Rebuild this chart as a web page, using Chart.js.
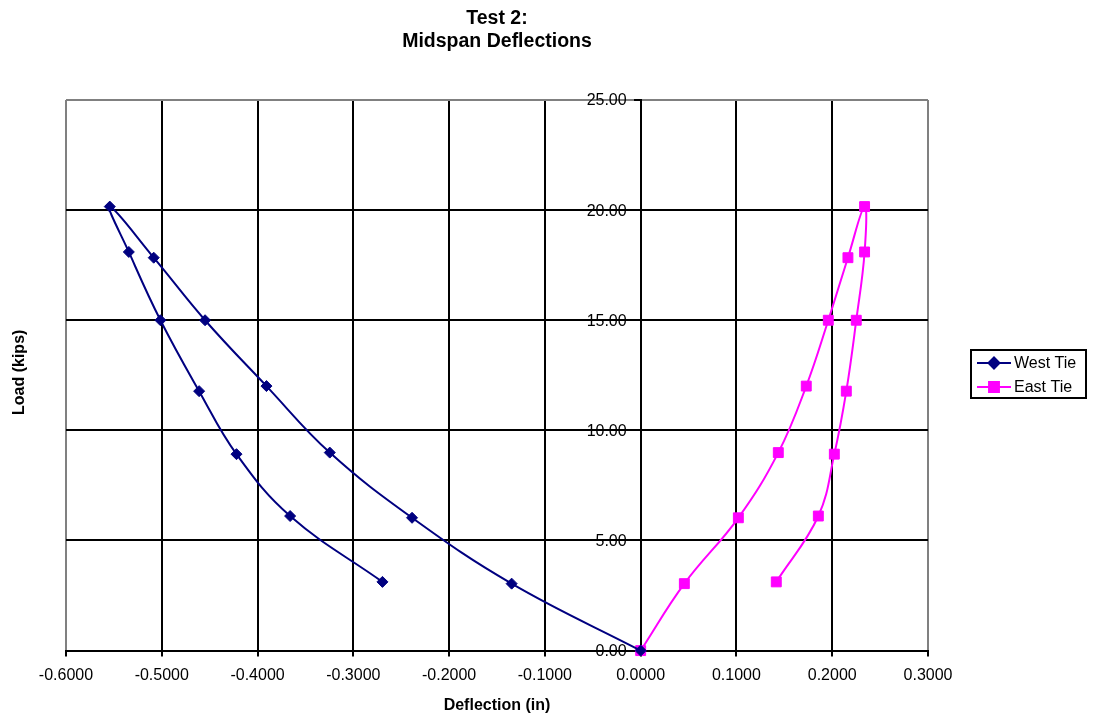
<!DOCTYPE html>
<html>
<head>
<meta charset="utf-8">
<title>Test 2: Midspan Deflections</title>
<script src="https://cdn.jsdelivr.net/npm/chart.js@4/dist/chart.umd.min.js"></script>
<style>
  html, body { margin: 0; padding: 0; background: #fff; }
  #wrap { width: 1094px; height: 719px; position: relative; }
</style>
</head>
<body>
<div id="wrap"><canvas id="deflChart"></canvas></div>
<script>
// Load steps (kips), shared by both ties: loading up to ~20 kips, then unloading
const loads = [0, 3.04, 6.03, 8.99, 12.01, 15.0, 17.84, 20.16, 18.10, 15.0, 11.78, 8.92, 6.11, 3.12];
// Midspan deflections (in)
const westTie = [0, -0.1347, -0.2387, -0.3246, -0.3907, -0.4548, -0.5084, -0.5543, -0.5344, -0.5014, -0.4610, -0.4220, -0.3660, -0.2696];
const eastTie = [0, 0.0456, 0.1020, 0.1437, 0.1729, 0.1959, 0.2164, 0.2338, 0.2338, 0.2251, 0.2147, 0.2022, 0.1855, 0.1416];

const seriesNames = ["West Tie", "East Tie"];
const titleLines = ["Test 2:", "Midspan Deflections"];
const xTitle = "Deflection (in)";
const yTitle = "Load (kips)";

const FONT = "'Liberation Sans', Arial, sans-serif";
const NAVY = "#000080";
const MAGENTA = "#FF00FF";
const BORDER_GREY = "#808080";

function toPoints(xs) {
  return xs.map((x, i) => ({ x: x, y: loads[i] }));
}

// y tick labels next to the x=0 axis, y-axis title, and the boxed legend
const extrasPlugin = {
  id: "extras",
  afterDraw(chart) {
    const ctx = chart.ctx;
    const area = chart.chartArea;
    const xs = chart.scales.x;
    const ys = chart.scales.y;

    ctx.save();
    ctx.fillStyle = "#000";
    ctx.font = "16px " + FONT;
    ctx.textAlign = "right";
    ctx.textBaseline = "middle";
    const axisX = xs.getPixelForValue(0);
    ys.ticks.forEach((t) => {
      ctx.fillText(Number(t.value).toFixed(2), axisX - 14, ys.getPixelForValue(t.value) + 1);
    });
    ctx.restore();

    ctx.save();
    ctx.translate(20, (area.top + area.bottom) / 2 - 3);
    ctx.rotate(-Math.PI / 2);
    ctx.font = "bold 16px " + FONT;
    ctx.fillStyle = "#000";
    ctx.textAlign = "center";
    ctx.textBaseline = "middle";
    ctx.fillText(yTitle, 0, 0);
    ctx.restore();

    // legend box
    const bx = area.right + 43;
    const by = 350;
    ctx.save();
    ctx.strokeStyle = "#000";
    ctx.lineWidth = 2;
    ctx.strokeRect(bx, by, 115, 48);
    chart.data.datasets.forEach((ds, i) => {
      const rowY = by + 13 + i * 24;
      ctx.strokeStyle = ds.borderColor;
      ctx.lineWidth = 2;
      ctx.beginPath();
      ctx.moveTo(bx + 6, rowY);
      ctx.lineTo(bx + 40, rowY);
      ctx.stroke();
      ctx.fillStyle = ds.borderColor;
      Chart.helpers.drawPoint(ctx, {
        pointStyle: ds.pointStyle,
        radius: ds.pointRadius,
        borderWidth: 1
      }, bx + 23, rowY);
      ctx.fillStyle = "#000";
      ctx.font = "16px " + FONT;
      ctx.textAlign = "left";
      ctx.textBaseline = "middle";
      ctx.fillText(ds.label, bx + 43, rowY + 1);
    });
    ctx.restore();
  }
};

function isEdge(v, a, b) {
  return Math.abs(v - a) < 1e-6 || Math.abs(v - b) < 1e-6;
}

new Chart(document.getElementById("deflChart"), {
  type: "scatter",
  data: {
    datasets: [
      {
        label: seriesNames[0],
        data: toPoints(westTie),
        showLine: true,
        borderColor: NAVY,
        backgroundColor: NAVY,
        borderWidth: 2,
        tension: 0.4,
        pointStyle: "rectRot",
        pointRadius: 5.5,
        pointBorderWidth: 1,
        clip: false
      },
      {
        label: seriesNames[1],
        data: toPoints(eastTie),
        showLine: true,
        borderColor: MAGENTA,
        backgroundColor: MAGENTA,
        borderWidth: 2,
        tension: 0.4,
        pointStyle: "rect",
        pointRadius: 7,
        pointBorderWidth: 1,
        clip: false
      }
    ]
  },
  options: {
    responsive: true,
    maintainAspectRatio: false,
    animation: false,
    layout: { padding: { left: 66, right: 166, top: 0, bottom: 1 } },
    plugins: {
      legend: { display: false },
      tooltip: { enabled: false },
      title: {
        display: true,
        text: titleLines,
        color: "#000",
        font: { family: FONT, size: 19.5, weight: "bold", lineHeight: 1.2 },
        padding: { top: 7, bottom: 46.2 }
      }
    },
    scales: {
      x: {
        type: "linear",
        position: "bottom",
        min: -0.6,
        max: 0.3,
        ticks: {
          stepSize: 0.1,
          maxRotation: 0,
          padding: 9,
          color: "#000",
          font: { family: FONT, size: 16 },
          callback: (v) => Number(v).toFixed(4)
        },
        grid: {
          lineWidth: 2,
          tickLength: 6,
          tickColor: "#000",
          color: (c) => (c.tick && isEdge(c.tick.value, -0.6, 0.3) ? BORDER_GREY : "#000")
        },
        border: { display: true, color: "#000", width: 2 },
        title: {
          display: true,
          text: xTitle,
          color: "#000",
          font: { family: FONT, size: 16, weight: "bold", lineHeight: 1.2 },
          padding: { top: 2.5, bottom: 2.5 }
        }
      },
      y: {
        type: "linear",
        position: { x: 0 },
        min: 0,
        max: 25,
        ticks: {
          stepSize: 5,
          display: false
        },
        grid: {
          lineWidth: 2,
          tickLength: 6,
          tickColor: "#000",
          color: (c) => (c.tick && Math.abs(c.tick.value - 25) < 1e-6 ? BORDER_GREY : "#000")
        },
        border: { display: true, color: "#000", width: 2 }
      }
    }
  },
  plugins: [extrasPlugin]
});
</script>
</body>
</html>
